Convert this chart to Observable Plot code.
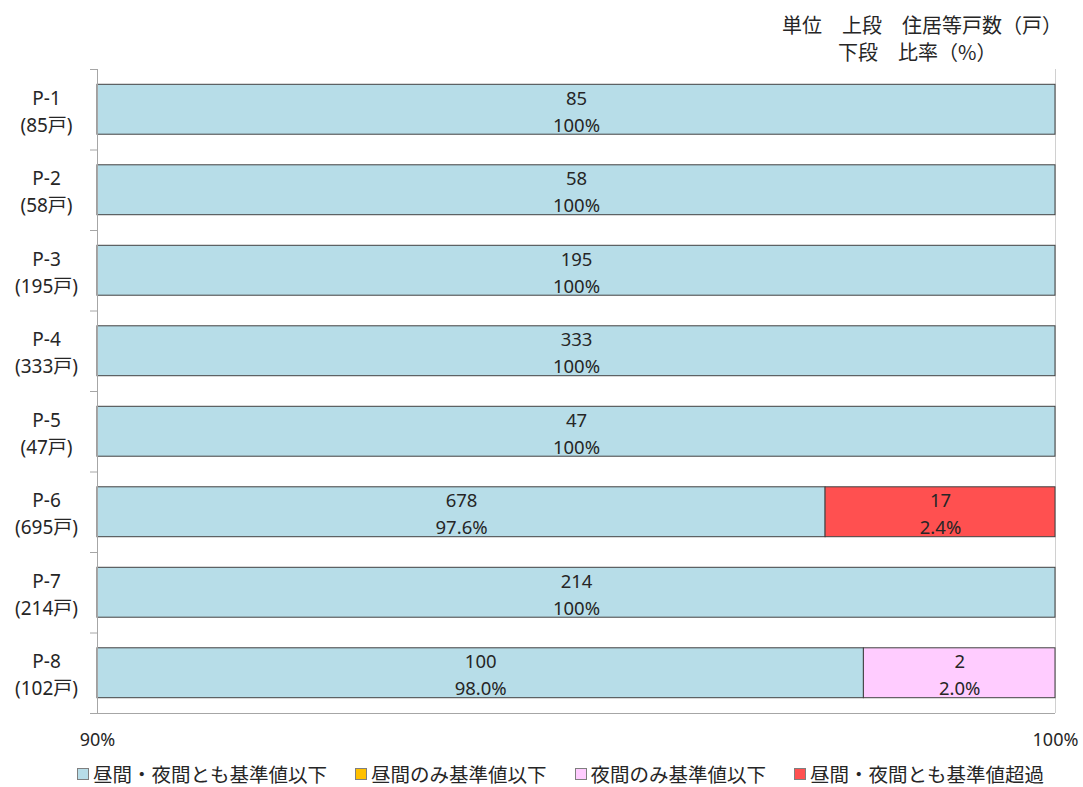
<!DOCTYPE html>
<html>
<head>
<meta charset="utf-8">
<script src="https://cdn.jsdelivr.net/npm/d3@7"></script>
<script src="https://cdn.jsdelivr.net/npm/@observablehq/plot@0.6"></script>
<style>
  body { margin: 0; background: #fff; }
  #wrap { position: relative; width: 1083px; height: 787px; font-family: "Noto Sans", "Noto Sans CJK JP", sans-serif; color: #262626; }
  .unit { position: absolute; font-family: "Noto Sans CJK JP", sans-serif; font-size: 20px; line-height: 24px; white-space: pre; }
  #legend { position: absolute; left: 0; top: 763px; width: 1083px; display: flex; justify-content: center; gap: 28px; padding-left: 38px; box-sizing: border-box; font-family: "Noto Sans CJK JP", sans-serif; font-size: 19.5px; line-height: 22px; }
  #legend .item { display: flex; align-items: center; gap: 4px; }
  #legend .sw { width: 12px; height: 12px; border: 1px solid #7f7f7f; box-sizing: border-box; }
</style>
</head>
<body>
<div id="wrap">
  <div class="unit" style="left:782px; top:13px;">単位　上段　住居等戸数（戸）</div>
  <div class="unit" style="left:838px; top:40px;">下段　比率（%）</div>
  <div id="chart"></div>
  <div id="legend"></div>
</div>
<script>
const categories = ["P-1", "P-2", "P-3", "P-4", "P-5", "P-6", "P-7", "P-8"];
const households = [85, 58, 195, 333, 47, 695, 214, 102];

const seriesNames = ["昼間・夜間とも基準値以下", "昼間のみ基準値以下", "夜間のみ基準値以下", "昼間・夜間とも基準値超過"];
const seriesColors = ["#b7dde8", "#ffc000", "#ffccff", "#ff5050"];

const countsBothBelow = [85, 58, 195, 333, 47, 678, 214, 100];
const countsDayOnly   = [0, 0, 0, 0, 0, 0, 0, 0];
const countsNightOnly = [0, 0, 0, 0, 0, 0, 0, 2];
const countsBothOver  = [0, 0, 0, 0, 0, 17, 0, 0];

const pctBothBelow = [100, 100, 100, 100, 100, 97.6, 100, 98.0];
const pctDayOnly   = [0, 0, 0, 0, 0, 0, 0, 0];
const pctNightOnly = [0, 0, 0, 0, 0, 0, 0, 2.0];
const pctBothOver  = [0, 0, 0, 0, 0, 2.4, 0, 0];

const xTicks = [90, 100];
const xMin = 90, xMax = 100;

const seriesCounts = [countsBothBelow, countsDayOnly, countsNightOnly, countsBothOver];
const seriesPcts = [pctBothBelow, pctDayOnly, pctNightOnly, pctBothOver];

const fmtPct = v => (v === 100 ? "100" : v.toFixed(1)) + "%";

// build stacked segments (clipped to the visible axis range)
const segments = [];
categories.forEach((cat, i) => {
  let start = 0;
  seriesNames.forEach((name, j) => {
    const p = seriesPcts[j][i];
    const end = start + p;
    if (p > 0 && end > xMin) {
      segments.push({
        cat, idx: i, series: name, color: seriesColors[j],
        x1: Math.max(xMin, start), x2: Math.min(xMax, end),
        label: seriesCounts[j][i] + "\n" + fmtPct(p)
      });
    }
    start = end;
  });
});

const catRows = categories.map((c, i) => ({ idx: i, label: c + "\n(" + households[i] + "戸)" }));
const boundaries = d3.range(0, categories.length + 1);

const pad = 0.19;

const chart = Plot.plot({
  width: 1083,
  height: 760,
  marginTop: 69,
  marginBottom: 47,
  marginLeft: 97,
  marginRight: 28,
  style: { fontFamily: '"Noto Sans", "Noto Sans CJK JP", sans-serif', fontSize: "18px", color: "#262626", background: "#fff" },
  x: { domain: [xMin, xMax] },
  y: { domain: [0, categories.length], reverse: true },
  marks: [
    Plot.ruleX([xMax], { stroke: "#d0d0d0", strokeWidth: 1 }),
    Plot.rect(segments, {
      x1: "x1", x2: "x2",
      y1: d => d.idx + pad, y2: d => d.idx + 1 - pad,
      fill: "color", stroke: "#404040", strokeWidth: 1
    }),
    Plot.text(segments, {
      x: d => (d.x1 + d.x2) / 2,
      y: d => d.idx + 0.5,
      text: "label",
      lineHeight: 1.45,
      lineAnchor: "middle",
      fill: "#262626",
      fontSize: 18.5
    }),
    Plot.text(catRows, {
      x: xMin, dx: -51,
      y: d => d.idx + 0.5,
      text: "label",
      lineHeight: 1.42,
      lineAnchor: "middle",
      textAnchor: "middle",
      fill: "#262626",
      fontSize: 19
    }),
    Plot.axisY(boundaries, { tickSize: 7, tickFormat: () => "", stroke: "#a6a6a6" }),
    Plot.ruleX([xMin], { stroke: "#a6a6a6" }),
    Plot.ruleY([categories.length], { stroke: "#a6a6a6" }),
    Plot.axisX(xTicks, { tickSize: 0, tickPadding: 20, tickFormat: d => d + "%", fontSize: 18, fill: "#262626" })
  ]
});
document.getElementById("chart").appendChild(chart);

const legend = document.getElementById("legend");
seriesNames.forEach((name, j) => {
  const item = document.createElement("div");
  item.className = "item";
  const sw = document.createElement("span");
  sw.className = "sw";
  sw.style.background = seriesColors[j];
  const t = document.createElement("span");
  t.textContent = name;
  item.appendChild(sw);
  item.appendChild(t);
  legend.appendChild(item);
});
</script>
</body>
</html>
